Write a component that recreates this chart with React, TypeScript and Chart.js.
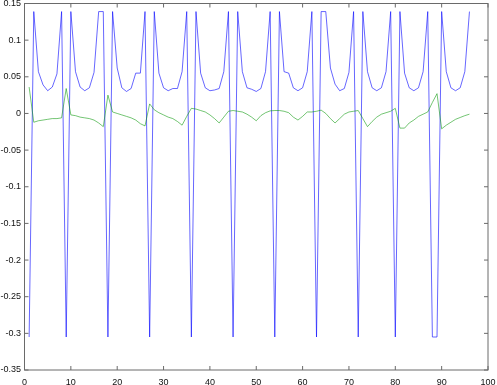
import React, { useEffect, useRef } from 'react';
import { Chart, registerables } from 'chart.js';

Chart.register(...registerables);

const xValues = [
  1, 2, 3, 4, 5, 6, 7, 8, 9, 10, 11, 12, 13, 14, 15, 16, 17, 18, 19, 20, 21, 22, 23, 24,
  25, 26, 27, 28, 29, 30, 31, 32, 33, 34, 35, 36, 37, 38, 39, 40, 41, 42, 43, 44, 45, 46, 47, 48,
  49, 50, 51, 52, 53, 54, 55, 56, 57, 58, 59, 60, 61, 62, 63, 64, 65, 66, 67, 68, 69, 70, 71, 72,
  73, 74, 75, 76, 77, 78, 79, 80, 81, 82, 83, 84, 85, 86, 87, 88, 89, 90, 91, 92, 93, 94, 95, 96,
];

const blueValues = [
  -0.305, 0.139, 0.057, 0.039, 0.031, 0.036, 0.054, 0.139,
  -0.305, 0.139, 0.057, 0.036, 0.031, 0.035, 0.056, 0.139, 0.139,
  -0.305, 0.139, 0.062, 0.035, 0.030, 0.034, 0.055, 0.055, 0.139,
  -0.305, 0.139, 0.055, 0.035, 0.031, 0.034, 0.034, 0.057, 0.139,
  -0.305, 0.139, 0.055, 0.035, 0.031, 0.032, 0.034, 0.057, 0.139,
  -0.305, 0.139, 0.057, 0.035, 0.033, 0.030, 0.034, 0.057, 0.139,
  -0.305, 0.139, 0.057, 0.055, 0.035, 0.031, 0.035, 0.057, 0.139,
  -0.305, 0.139, 0.139, 0.062, 0.040, 0.031, 0.034, 0.056, 0.139,
  -0.305, 0.139, 0.057, 0.035, 0.031, 0.035, 0.057, 0.139,
  -0.305, 0.139, 0.055, 0.035, 0.031, 0.035, 0.057, 0.139,
  -0.305, -0.305, 0.139, 0.057, 0.035, 0.031, 0.035, 0.057, 0.139,
];

const greenValues = [
  0.036, -0.012, -0.010, -0.009, -0.008, -0.007, -0.007, -0.006,
  0.034, -0.002, -0.003, -0.005, -0.006, -0.007, -0.009, -0.013, -0.018,
  0.025, 0.002, 0.000, -0.002, -0.004, -0.006, -0.009, -0.014, -0.017,
  0.013, 0.005, 0.001, -0.002, -0.005, -0.007, -0.011, -0.016, -0.004,
  0.007, 0.006, 0.004, 0.002, -0.002, -0.007, -0.013, -0.005, 0.003,
  0.004, 0.003, 0.002, -0.001, -0.005, -0.010, -0.003, 0.001, 0.0035,
  0.004, 0.004, 0.003, 0.001, -0.005, -0.009, -0.004, 0.002, 0.002,
  0.003, 0.0045, 0.000, -0.007, -0.013, -0.007, -0.001, 0.002, 0.003,
  0.004, -0.007, -0.018, -0.011, -0.005, -0.001, 0.001, 0.003,
  0.007, -0.020, -0.020, -0.013, -0.009, -0.004, -0.001, 0.002,
  0.015, 0.027, -0.021, -0.016, -0.012, -0.008, -0.0055, -0.003, -0.001,
];

const xTicks = [0, 10, 20, 30, 40, 50, 60, 70, 80, 90, 100];
const xTickLabels = ['0', '10', '20', '30', '40', '50', '60', '70', '80', '90', '100'];
const yTicks = [-0.35, -0.3, -0.25, -0.2, -0.15, -0.1, -0.05, 0, 0.05, 0.1, 0.15];
const yTickLabels = ['-0.35', '-0.3', '-0.25', '-0.2', '-0.15', '-0.1', '-0.05', '0', '0.05', '0.1', '0.15'];

const FONT = { family: "'Liberation Sans', Arial, sans-serif", size: 9 };

const framePlugin = {
  id: 'frame',
  afterDatasetsDraw(chart: any) {
    const { ctx, chartArea: a, scales } = chart;
    ctx.save();
    ctx.strokeStyle = '#6a6a6a';
    ctx.lineWidth = 1;
    ctx.strokeRect(a.left, a.top, a.right - a.left, a.bottom - a.top);
    ctx.beginPath();
    const len = 4;
    for (const v of xTicks) {
      const px = scales.x.getPixelForValue(v);
      ctx.moveTo(px, a.bottom);
      ctx.lineTo(px, a.bottom - len);
      ctx.moveTo(px, a.top);
      ctx.lineTo(px, a.top + len);
    }
    for (const v of yTicks) {
      const py = scales.y.getPixelForValue(v);
      ctx.moveTo(a.left, py);
      ctx.lineTo(a.left + len, py);
      ctx.moveTo(a.right, py);
      ctx.lineTo(a.right - len, py);
    }
    ctx.stroke();
    ctx.restore();
  },
};

export default function App() {
  const ref = useRef<HTMLCanvasElement | null>(null);

  useEffect(() => {
    document.body.style.margin = '0';
    const canvas = ref.current;
    if (!canvas) return;
    const chart = new Chart(canvas, {
      type: 'line',
      data: {
        datasets: [
          {
            label: 'green',
            data: xValues.map((x, i) => ({ x, y: greenValues[i] })),
            borderColor: 'rgba(0,150,0,0.55)',
            borderWidth: 1,
            pointRadius: 0,
            tension: 0,
            fill: false,
          },
          {
            label: 'blue',
            data: xValues.map((x, i) => ({ x, y: blueValues[i] })),
            borderColor: 'rgba(0,0,255,0.6)',
            borderWidth: 1,
            pointRadius: 0,
            tension: 0,
            fill: false,
          },
        ],
      },
      options: {
        animation: false,
        responsive: false,
        maintainAspectRatio: false,
        layout: { padding: { top: 3.5, right: 9, bottom: 0, left: 0 } },
        plugins: { legend: { display: false }, tooltip: { enabled: false } },
        scales: {
          x: {
            type: 'linear',
            min: 0,
            max: 100,
            grid: { display: false, drawTicks: false },
            border: { display: false },
            afterBuildTicks: (s: any) => {
              s.ticks = xTicks.map((v) => ({ value: v }));
            },
            afterFit: (s: any) => {
              s.height = 15;
              s.paddingLeft = 0;
              s.paddingRight = 0;
              s.paddingTop = 0;
              s.paddingBottom = 0;
            },
            ticks: {
              autoSkip: false,
              maxRotation: 0,
              padding: 7,
              color: '#111',
              font: FONT,
              callback: (v: any) => {
                const i = xTicks.indexOf(Number(v));
                return i >= 0 ? xTickLabels[i] : '';
              },
            },
          },
          y: {
            type: 'linear',
            min: -0.35,
            max: 0.15,
            grid: { display: false, drawTicks: false },
            border: { display: false },
            afterBuildTicks: (s: any) => {
              s.ticks = yTicks.map((v) => ({ value: v }));
            },
            afterFit: (s: any) => {
              s.width = 24.5;
              s.paddingLeft = 0;
              s.paddingRight = 0;
              s.paddingTop = 0;
              s.paddingBottom = 0;
            },
            ticks: {
              autoSkip: false,
              padding: 3.5,
              color: '#111',
              font: FONT,
              callback: (v: any) => {
                const i = yTicks.findIndex((t) => Math.abs(t - Number(v)) < 1e-9);
                return i >= 0 ? yTickLabels[i] : '';
              },
            },
          },
        },
      },
      plugins: [framePlugin],
    });
    return () => chart.destroy();
  }, []);

  return (
    <div style={{ position: 'absolute', left: 0, top: 0, width: 497, height: 385 }}>
      <canvas ref={ref} width={497} height={385} />
    </div>
  );
}
